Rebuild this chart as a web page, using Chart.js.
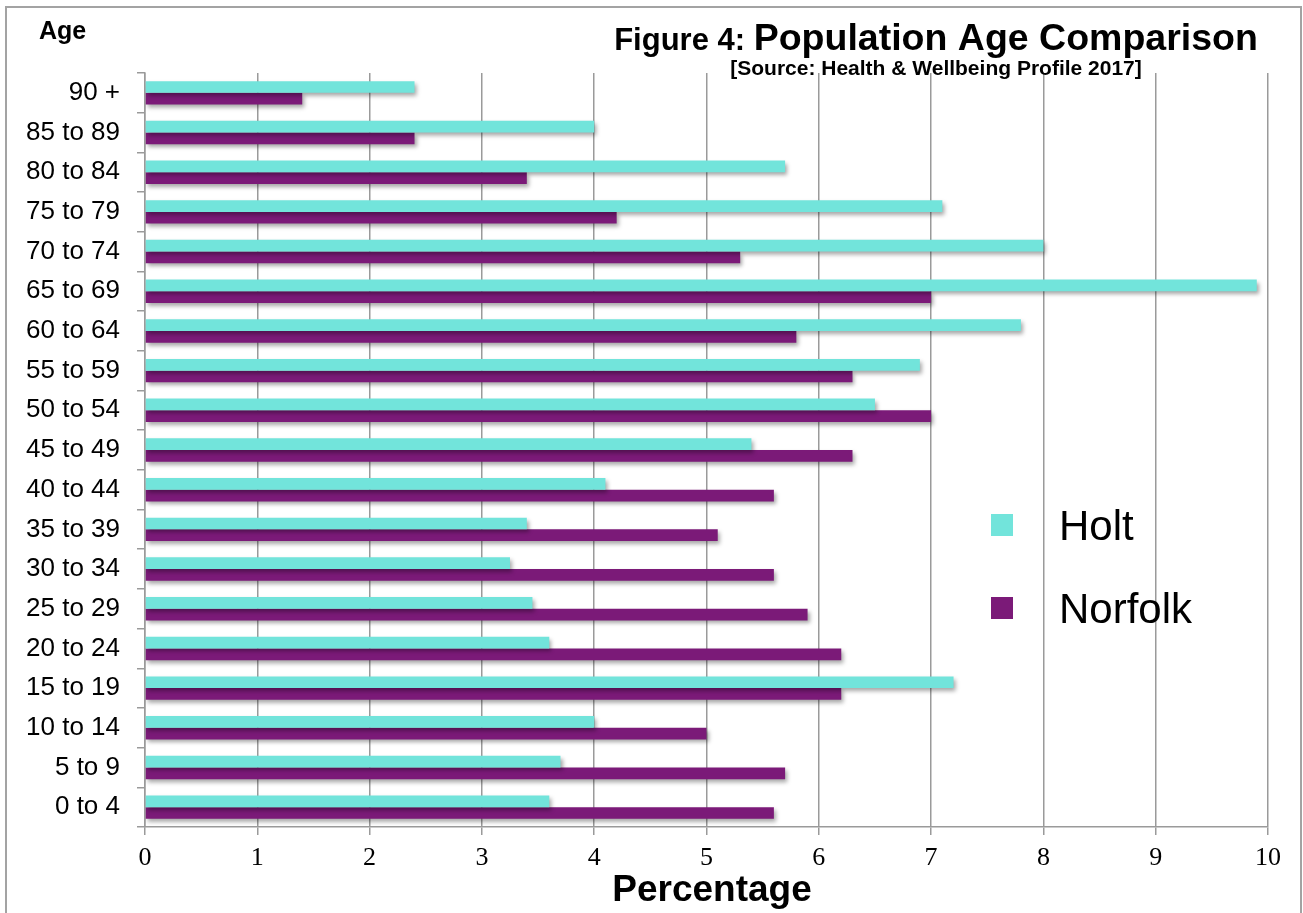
<!DOCTYPE html>
<html>
<head>
<meta charset="utf-8">
<title>Population Age Comparison</title>
<script src="https://cdn.jsdelivr.net/npm/chart.js@4.4.1/dist/chart.umd.min.js"></script>
<style>
  html, body { margin: 0; padding: 0; background: #ffffff; }
  #wrap { width: 1303px; height: 913px; position: relative; }
  canvas { display: block; }
</style>
</head>
<body>
<div id="wrap"><canvas id="chart" width="1303" height="913"></canvas></div>
<script>
// Age bands, oldest at the top
const ageGroups = [
  "90 +", "85 to 89", "80 to 84", "75 to 79", "70 to 74", "65 to 69",
  "60 to 64", "55 to 59", "50 to 54", "45 to 49", "40 to 44", "35 to 39",
  "30 to 34", "25 to 29", "20 to 24", "15 to 19", "10 to 14", "5 to 9", "0 to 4"
];

// Share of population in each band (%)
const holtValues = [
  2.4, 4.0, 5.7, 7.1, 8.0, 9.9,
  7.8, 6.9, 6.5, 5.4, 4.1, 3.4,
  3.25, 3.45, 3.6, 7.2, 4.0, 3.7, 3.6
];
const norfolkValues = [
  1.4, 2.4, 3.4, 4.2, 5.3, 7.0,
  5.8, 6.3, 7.0, 6.3, 5.6, 5.1,
  5.6, 5.9, 6.2, 6.2, 5.0, 5.7, 5.6
];

const seriesNames = ["Holt", "Norfolk"];
const seriesColors = ["#72e4db", "#7b1a78"];

const titleLead = "Figure 4: ";
const titleMain = "Population Age Comparison";
const subtitleText = "[Source: Health & Wellbeing Profile 2017]";
const yAxisCaption = "Age";
const xAxisCaption = "Percentage";

const SANS = "'Liberation Sans', Arial, Helvetica, sans-serif";
const SERIF = "'Liberation Serif', 'Times New Roman', serif";
const GRID = "#9a9a9a";

// Soft drop shadow under the bars
const barShadow = {
  id: 'barShadow',
  beforeDatasetsDraw(chart) {
    const ctx = chart.ctx;
    ctx.save();
    ctx.shadowColor = 'rgba(0,0,0,0.35)';
    ctx.shadowBlur = 4;
    ctx.shadowOffsetX = 2;
    ctx.shadowOffsetY = 3;
  },
  afterDatasetsDraw(chart) {
    chart.ctx.restore();
  }
};

// Frame, headings, axis caption and the in-plot legend
const decorations = {
  id: 'decorations',
  beforeDraw(chart) {
    const ctx = chart.ctx;
    ctx.save();
    ctx.fillStyle = '#ffffff';
    ctx.fillRect(0, 0, chart.width, chart.height);
    ctx.strokeStyle = '#a3a3a3';
    ctx.lineWidth = 2;
    ctx.strokeRect(6, 7, 1295, 920);
    ctx.restore();
  },
  afterDraw(chart) {
    const ctx = chart.ctx;
    ctx.save();
    ctx.fillStyle = '#000000';
    ctx.textBaseline = 'alphabetic';

    // Title: smaller lead-in followed by the main heading, centred as one line
    const leadFont = `bold 31px ${SANS}`;
    const mainFont = `bold 37.5px ${SANS}`;
    ctx.font = leadFont;
    const wLead = ctx.measureText(titleLead).width;
    ctx.font = mainFont;
    const wMain = ctx.measureText(titleMain).width;
    const cx = 936;
    const x0 = cx - (wLead + wMain) / 2;
    ctx.textAlign = 'left';
    ctx.font = leadFont;
    ctx.fillText(titleLead, x0, 50);
    ctx.font = mainFont;
    ctx.fillText(titleMain, x0 + wLead, 50);

    ctx.font = `bold 21px ${SANS}`;
    ctx.textAlign = 'center';
    ctx.fillText(subtitleText, cx, 75);

    ctx.font = `bold 25px ${SANS}`;
    ctx.textAlign = 'left';
    ctx.fillText(yAxisCaption, 39, 39);

    // x-axis caption
    ctx.font = `bold 37px ${SANS}`;
    ctx.textAlign = 'center';
    ctx.fillText(xAxisCaption, 712, 901);

    // Legend
    const rows = chart.data.datasets;
    ctx.font = `42px ${SANS}`;
    ctx.textAlign = 'left';
    ctx.textBaseline = 'middle';
    rows.forEach((ds, i) => {
      const yMid = 525 + i * 83;
      ctx.fillStyle = ds.backgroundColor;
      ctx.fillRect(991, yMid - 11, 22, 22);
      ctx.fillStyle = '#000000';
      ctx.fillText(ds.label, 1059, yMid + 3);
    });
    ctx.restore();
  }
};

new Chart(document.getElementById('chart'), {
  type: 'bar',
  data: {
    labels: ageGroups,
    datasets: [
      {
        label: seriesNames[0],
        data: holtValues,
        backgroundColor: seriesColors[0],
        borderWidth: 0,
        categoryPercentage: 0.59,
        barPercentage: 1.0
      },
      {
        label: seriesNames[1],
        data: norfolkValues,
        backgroundColor: seriesColors[1],
        borderWidth: 0,
        categoryPercentage: 0.59,
        barPercentage: 1.0
      }
    ]
  },
  options: {
    indexAxis: 'y',
    responsive: false,
    animation: false,
    devicePixelRatio: 1,
    layout: { padding: { top: 73, right: 35, bottom: 0, left: 0 } },
    plugins: {
      legend: { display: false },
      title: { display: false },
      tooltip: { enabled: false }
    },
    scales: {
      x: {
        min: 0,
        max: 10,
        ticks: {
          stepSize: 1,
          color: '#000000',
          padding: 8,
          font: { family: SERIF, size: 26 }
        },
        grid: {
          color: GRID,
          lineWidth: 1.5,
          tickLength: 8,
          drawTicks: true
        },
        border: { color: GRID, width: 1.5 },
        afterFit(scale) { scale.height = 86; }
      },
      y: {
        ticks: {
          autoSkip: false,
          color: '#000000',
          padding: 17,
          font: { family: SANS, size: 26 }
        },
        grid: {
          offset: true,
          drawOnChartArea: false,
          drawTicks: true,
          tickLength: 8,
          color: GRID,
          lineWidth: 1.5
        },
        border: { color: GRID, width: 1.5 },
        afterFit(scale) { scale.width = 145; }
      }
    }
  },
  plugins: [barShadow, decorations]
});
</script>
</body>
</html>
